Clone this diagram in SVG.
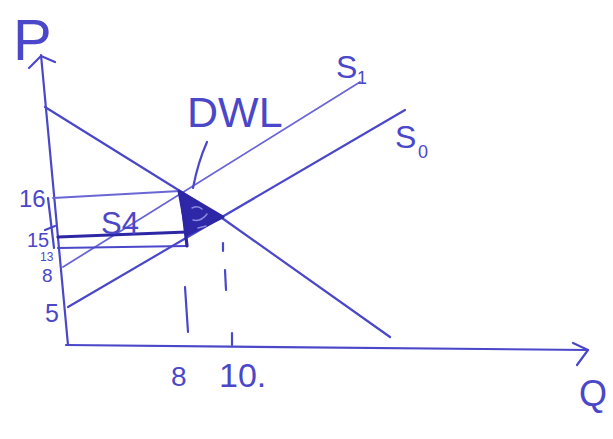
<svg xmlns="http://www.w3.org/2000/svg" width="613" height="439" viewBox="0 0 613 439">
<style>
.ln{fill:none;stroke:#4b47c9;stroke-width:2.2;stroke-linecap:round;stroke-linejoin:round}
.lt{fill:none;stroke:#6a66d4;stroke-width:1.8;stroke-linecap:round}
.hv{fill:none;stroke:#2d27a6;stroke-width:3.2;stroke-linecap:round;stroke-linejoin:round}
.tx{fill:#4b47c9;font-family:"Liberation Sans",Arial,sans-serif}
</style>
<rect width="613" height="439" fill="#ffffff"/>
<g id="axes">
  <path class="ln" d="M41,55 L68,345"/>
  <path class="ln" d="M29,68 L41,56 L55,62"/>
  <path class="ln" d="M66,345 L588,350"/>
  <path class="ln" d="M573,343 L588,350 L577,365"/>
</g>
<g id="connectors">
  <path id="demand" class="ln" d="M45,107 L180,191 L222,218 L390,337"/>
  <path id="S1-line" class="lt" d="M63,267 L360,82"/>
  <path id="S0-line" class="ln" d="M68,307 L405,110"/>
  <path id="p16" class="lt" d="M53,198 L180,191"/>
  <path id="p15" class="hv" d="M58,237 L187,232"/>
  <path id="p13" class="ln" d="M58,248 L187,246"/>
  <path id="bracket" class="ln" d="M48,198 L54,248"/>
  <path id="qvert" class="hv" d="M181,193 L187,246"/>
  <path class="ln" d="M45,230 L55,226"/>
  <path class="ln" d="M185,287 L188,332"/>
  <path class="ln" d="M223,243 L223,251"/>
  <path class="ln" d="M225,270 L226,290"/>
  <path class="ln" d="M232,333 L232,345"/>
  <path id="dwl-pointer" class="ln" d="M207,142 Q198,162 193,188"/>
</g>
<g id="dwl-triangle">
  <path d="M179,191 L223,217 L187,235 Z" fill="#2e27a8" stroke="#2d27a6" stroke-width="3" stroke-linejoin="round"/>
  <path d="M192,208 q6,-3 10,1 M193,220 q8,2 14,-6 M198,228 l8,-2" fill="none" stroke="#8d8ae0" stroke-width="1.5" stroke-linecap="round"/>
</g>
<g id="labels">
  <text class="tx" x="13" y="60" font-size="58">P</text>
  <text class="tx" x="579" y="406" font-size="36">Q</text>
  <text class="tx" x="187" y="127" font-size="43">DWL</text>
  <text class="tx" x="336" y="78" font-size="32">S</text>
  <text class="tx" x="357" y="84" font-size="18">1</text>
  <text class="tx" x="395" y="148" font-size="32">S</text>
  <text class="tx" x="418" y="158" font-size="18">0</text>
  <text class="tx" x="101" y="234" font-size="31">S4</text>
  <text class="tx" x="19" y="207" font-size="24">16</text>
  <text class="tx" x="27" y="247" font-size="20">15</text>
  <text class="tx" x="40" y="261" font-size="12">13</text>
  <text class="tx" x="42" y="282" font-size="19">8</text>
  <text class="tx" x="45" y="322" font-size="25">5</text>
  <text class="tx" x="171" y="386" font-size="28">8</text>
  <text class="tx" x="219" y="387" font-size="34">10.</text>
</g>
</svg>
